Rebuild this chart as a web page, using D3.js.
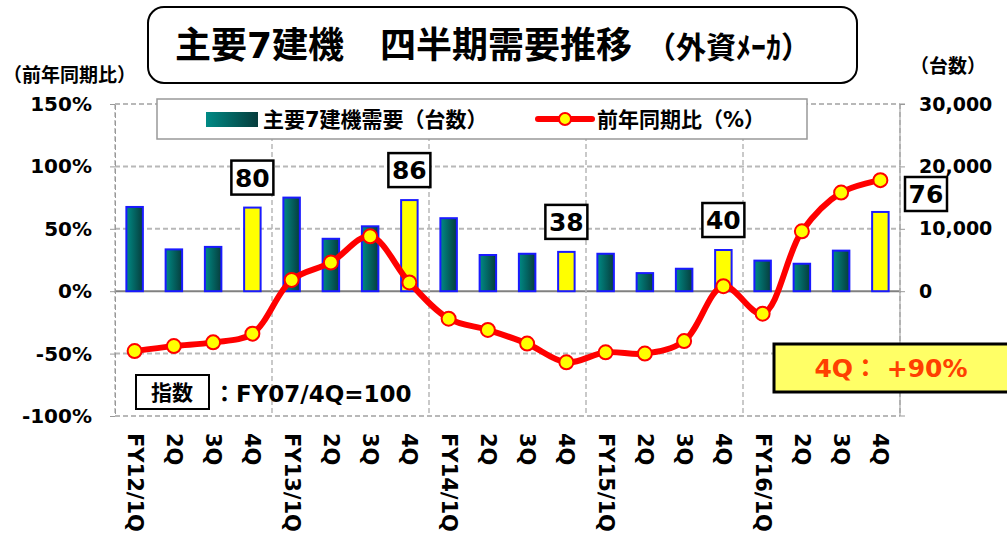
<!DOCTYPE html>
<html>
<head>
<meta charset="utf-8">
<script src="https://cdn.jsdelivr.net/npm/d3@7"></script>
<style>
  body { margin: 0; background: #fff; }
  text { font-family: "DejaVu Sans", "Noto Sans CJK JP", sans-serif; font-weight: bold; }
</style>
</head>
<body>
<svg width="1007" height="534"></svg>
<script>
// quarters, FY12/1Q .. FY16/4Q
var quarters = ["FY12/1Q","2Q","3Q","4Q","FY13/1Q","2Q","3Q","4Q","FY14/1Q","2Q","3Q","4Q",
                "FY15/1Q","2Q","3Q","4Q","FY16/1Q","2Q","3Q","4Q"];
// demand, units (right axis)
var demand = [13500,6700,7100,13400,15000,8400,10400,14600,11700,5800,6000,6300,
              6000,2900,3600,6600,4900,4400,6500,12700];
// YoY change, % (left axis)
var yoy = [-48,-44,-41,-34,9,23,44,7,-22,-31,-42,-57,-49,-50,-40,4,-18,48,79,89];
// index labels for 4Q bars (FY07/4Q = 100)
var indexLabels = [{i:3, v:80},{i:7, v:86},{i:11, v:38},{i:15, v:40},{i:19, v:76}];
var leftTicks = [150,100,50,0,-50,-100];
var rightTicks = [30000,20000,10000,0];

var svg = d3.select("svg");
var plotL = 115, plotR = 900, plotT = 104, plotB = 416;

var x = d3.scaleBand().domain(d3.range(quarters.length)).range([plotL, plotR]).padding(0);
var yL = d3.scaleLinear().domain([-100,150]).range([plotB, plotT]);
var yR = d3.scaleLinear().domain([-20000,30000]).range([plotB, plotT]);
var cx = function(i){ return x(i) + x.bandwidth()/2; };
var barW = x.bandwidth() * 0.42;

// gradient for bars
var defs = svg.append("defs");
var g = defs.append("linearGradient").attr("id","teal").attr("x1","0").attr("x2","1").attr("y1","0").attr("y2","0");
g.append("stop").attr("offset","0%").attr("stop-color","#008a85");
g.append("stop").attr("offset","100%").attr("stop-color","#063c3c");

// title box
svg.append("rect").attr("x",148).attr("y",7).attr("width",709).attr("height",76).attr("rx",16)
  .attr("fill","#fff").attr("stroke","#000").attr("stroke-width",2);
var title = svg.append("text").attr("x",175).attr("y",58).attr("font-size",36);
title.append("tspan").text("主要7建機　四半期需要推移");
title.append("tspan").attr("font-size",30).attr("dx",14).text("（外資ﾒｰｶ）");

// axis titles
svg.append("text").attr("x",3).attr("y",82).attr("font-size",19).text("（前年同期比）");
svg.append("text").attr("x",910).attr("y",73).attr("font-size",19).text("（台数）");

// grid
var grid = svg.append("g");
leftTicks.forEach(function(t){
  grid.append("line").attr("x1",plotL).attr("x2",plotR).attr("y1",yL(t)).attr("y2",yL(t))
    .attr("stroke", t === 0 ? "#808080" : "#b8b8b8").attr("stroke-width", 2)
    .attr("stroke-dasharray", t === 0 ? null : "5,3");
});
d3.range(0, quarters.length + 1, 4).forEach(function(i){
  var xx = i < quarters.length ? x(i) : plotR;
  grid.append("line").attr("x1",xx).attr("x2",xx).attr("y1",plotT).attr("y2",plotB)
    .attr("stroke","#b8b8b8").attr("stroke-width",1.5).attr("stroke-dasharray","5,3");
});

// axes
var axL = d3.axisLeft(yL).tickValues(leftTicks).tickFormat(function(d){ return d + "%"; }).tickSize(5).tickPadding(18);
var gL = svg.append("g").attr("transform","translate(" + plotL + ",0)").call(axL);
gL.select(".domain").attr("stroke","#999").attr("stroke-dasharray","5,3");
gL.selectAll(".tick line").attr("stroke","#999");
gL.selectAll("text").attr("font-size",20).attr("fill","#000").style("font-family","'DejaVu Sans', sans-serif");

var axR = d3.axisRight(yR).tickValues(rightTicks).tickFormat(d3.format(",")).tickSize(5).tickPadding(14);
var gR = svg.append("g").attr("transform","translate(" + plotR + ",0)").call(axR);
gR.select(".domain").attr("stroke","#999").attr("d","M5," + plotT + "H0V" + plotB + "H5");
gR.selectAll(".tick line").attr("stroke","#999");
gR.selectAll("text").attr("font-size",19).attr("fill","#000").style("font-family","'DejaVu Sans', sans-serif");

// x labels, rotated
svg.append("g").selectAll("text").data(quarters).join("text")
  .attr("transform", function(d,i){ return "translate(" + (cx(i) - 7) + ",433) rotate(90)"; })
  .attr("font-size",21).attr("text-anchor","start").text(function(d){ return d; });

// bars
svg.append("g").selectAll("rect").data(demand).join("rect")
  .attr("x", function(d,i){ return cx(i) - barW/2; })
  .attr("y", function(d){ return yR(d); })
  .attr("width", barW)
  .attr("height", function(d){ return yR(0) - yR(d); })
  .attr("fill", function(d,i){ return i % 4 === 3 ? "#ffff00" : "url(#teal)"; })
  .attr("stroke","#1a1aff").attr("stroke-width",2);

// line
var line = d3.line().x(function(d,i){ return cx(i); }).y(function(d){ return yL(d); }).curve(d3.curveCatmullRom.alpha(0.5));
svg.append("path").datum(yoy).attr("d", line).attr("fill","none").attr("stroke","#ff0000").attr("stroke-width",6);
svg.append("g").selectAll("circle").data(yoy).join("circle")
  .attr("cx", function(d,i){ return cx(i); }).attr("cy", function(d){ return yL(d); }).attr("r",7)
  .attr("fill","#ffff00").attr("stroke","#ff0000").attr("stroke-width",2);

// index label boxes
indexLabels.forEach(function(d){
  var bx, by;
  if (d.i === quarters.length - 1) { bx = plotR + 26; by = 194; }
  else { bx = cx(d.i); by = yR(demand[d.i]) - 30; }
  svg.append("rect").attr("x", bx - 21).attr("y", by - 17).attr("width",42).attr("height",34)
    .attr("fill","#fff").attr("stroke","#000").attr("stroke-width",2.5);
  svg.append("text").attr("x", bx).attr("y", by + 9).attr("text-anchor","middle").attr("font-size",25).text(d.v);
});

// legend
svg.append("rect").attr("x",157).attr("y",99).attr("width",650).attr("height",40)
  .attr("fill","#fff").attr("stroke","#999").attr("stroke-width",1.5);
svg.append("rect").attr("x",206).attr("y",112).attr("width",52).attr("height",15).attr("fill","url(#teal)");
svg.append("text").attr("x",263).attr("y",127).attr("font-size",21).text("主要7建機需要（台数）");
svg.append("line").attr("x1",538).attr("x2",592).attr("y1",119).attr("y2",119).attr("stroke","#ff0000").attr("stroke-width",6).attr("stroke-linecap","round");
svg.append("circle").attr("cx",565).attr("cy",119).attr("r",6).attr("fill","#ffff00").attr("stroke","#ff0000").attr("stroke-width",2);
svg.append("text").attr("x",597).attr("y",127).attr("font-size",21).text("前年同期比（%）");

// index note
svg.append("rect").attr("x",136).attr("y",375).attr("width",73).attr("height",34).attr("fill","#fff").attr("stroke","#000").attr("stroke-width",2);
svg.append("text").attr("x",172).attr("y",400).attr("text-anchor","middle").attr("font-size",21).text("指数");
svg.append("text").attr("x",213).attr("y",402).attr("font-size",23).text("：FY07/4Q=100");

// 4Q note
svg.append("rect").attr("x",774).attr("y",344).attr("width",240).attr("height",48)
  .attr("fill","#ffff66").attr("stroke","#000").attr("stroke-width",3);
svg.append("text").attr("x",891).attr("y",377).attr("text-anchor","middle").attr("font-size",25)
  .attr("fill","#ff4000").text("4Q：  +90%");
</script>
</body>
</html>
